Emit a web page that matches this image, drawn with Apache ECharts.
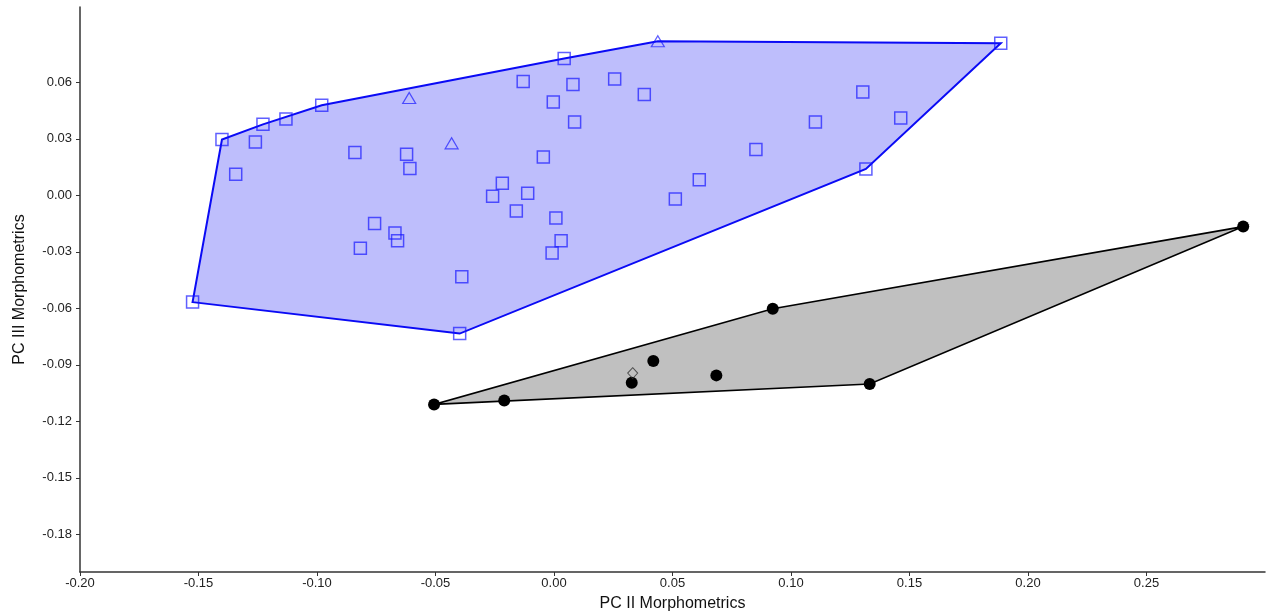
<!DOCTYPE html>
<html>
<head>
<meta charset="utf-8">
<script src="https://cdn.jsdelivr.net/npm/echarts@6/dist/echarts.min.js"></script>
<style>
html,body{margin:0;padding:0;background:#fff;}
#chart{width:1266px;height:614px;}
</style>
</head>
<body>
<div id="chart"></div>
<script>
// PC II (x), PC III (y) scores
const blueSquares = [
  [-0.1525,-0.0567],[-0.1401,0.0296],[-0.1343,0.0112],[-0.1260,0.0283],[-0.1228,0.0377],
  [-0.1131,0.0405],[-0.0980,0.0478],[-0.0840,0.0228],[-0.0757,-0.0150],[-0.0817,-0.0281],
  [-0.0671,-0.0200],[-0.0660,-0.0241],[-0.0622,0.0218],[-0.0608,0.0143],[-0.0389,-0.0432],
  [-0.0398,-0.0734],[-0.0218,0.0064],[-0.0259,-0.0005],[-0.0111,0.0011],[-0.0159,-0.0083],
  [-0.0045,0.0203],[0.0008,-0.0121],[0.0030,-0.0241],[-0.0008,-0.0306],[-0.0130,0.0604],
  [0.0080,0.0588],[-0.0003,0.0495],[0.0087,0.0389],[0.0043,0.0726],[0.0256,0.0618],
  [0.0381,0.0536],[0.1303,0.0549],[0.1463,0.0411],[0.1103,0.0389],[0.0852,0.0243],
  [0.0613,0.0083],[0.0512,-0.0020],[0.1316,0.0140],[0.1885,0.0807]
];
const blueTriangles = [[-0.0611,0.0517],[-0.0432,0.0276],[0.0438,0.0818]];
const blackCircles = [
  [-0.0506,-0.1110],[-0.0210,-0.1089],[0.0328,-0.0995],[0.0419,-0.0880],
  [0.0685,-0.0956],[0.0923,-0.0602],[0.1332,-0.1002],[0.2908,-0.0166]
];
const blackDiamonds = [[0.0332,-0.0944]];

const xTicks = [-0.20,-0.15,-0.10,-0.05,0.00,0.05,0.10,0.15,0.20,0.25];
const yTicks = [-0.18,-0.15,-0.12,-0.09,-0.06,-0.03,0.00,0.03,0.06];

function hull(points){
  const p = points.slice().sort((a,b)=>a[0]-b[0]||a[1]-b[1]);
  const cross=(o,a,b)=>(a[0]-o[0])*(b[1]-o[1])-(a[1]-o[1])*(b[0]-o[0]);
  const lower=[],upper=[];
  for(const q of p){while(lower.length>=2&&cross(lower[lower.length-2],lower[lower.length-1],q)<=0)lower.pop();lower.push(q);}
  for(let i=p.length-1;i>=0;i--){const q=p[i];while(upper.length>=2&&cross(upper[upper.length-2],upper[upper.length-1],q)<=0)upper.pop();upper.push(q);}
  upper.pop();lower.pop();
  return lower.concat(upper);
}

const blueHull = hull(blueSquares.concat(blueTriangles));
const blackHull = hull(blackCircles.concat(blackDiamonds));

function polySeries(pts, fill, stroke, lw){
  return {
    type:'custom', z:1, silent:true,
    data:[pts[0]],
    renderItem:function(params, api){
      return {type:'polygon', shape:{points: pts.map(p=>api.coord(p))},
        style:{fill:fill, stroke:stroke, lineWidth:lw, lineJoin:'miter'}};
    }
  };
}

const fmt = v => v.toFixed(2);
const chart = echarts.init(document.getElementById('chart'), null, {renderer:'canvas'});
chart.setOption({
  animation:false,
  backgroundColor:'#ffffff',
  grid:{left:80, right:1, top:7, bottom:42, containLabel:false, outerBoundsMode:'none'},
  xAxis:{
    type:'value', min:-0.20, max:0.30,
    name:'PC II Morphometrics', nameLocation:'middle', nameGap:24,
    nameTextStyle:{fontFamily:'Liberation Sans, Arial, sans-serif', fontSize:16, color:'#111'},
    axisLine:{show:true, onZero:false, lineStyle:{color:'#333', width:1.5}},
    axisTick:{show:true, length:4, customValues:xTicks, lineStyle:{color:'#333'}},
    axisLabel:{customValues:xTicks, formatter:fmt, margin:5, fontFamily:'Liberation Sans, Arial, sans-serif', fontSize:13, color:'#222'},
    splitLine:{show:false}
  },
  yAxis:{
    type:'value', min:-0.20, max:0.10,
    name:'PC III Morphometrics', nameLocation:'middle', nameGap:52,
    nameTextStyle:{fontFamily:'Liberation Sans, Arial, sans-serif', fontSize:16, color:'#111'},
    axisLine:{show:true, onZero:false, lineStyle:{color:'#333', width:1.5}},
    axisTick:{show:true, length:4, customValues:yTicks, lineStyle:{color:'#333'}},
    axisLabel:{customValues:yTicks, formatter:fmt, margin:8, fontFamily:'Liberation Sans, Arial, sans-serif', fontSize:13, color:'#222'},
    splitLine:{show:false}
  },
  series:[
    polySeries(blueHull, 'rgba(130,130,250,0.52)', '#0a0af5', 2),
    polySeries(blackHull, '#c0c0c0', '#000000', 1.6),
    {type:'scatter', z:3, data:blueSquares, symbol:'rect', symbolSize:12,
     itemStyle:{color:'rgba(0,0,0,0)', borderColor:'rgba(20,20,255,0.85)', borderWidth:1.5}},
    {type:'scatter', z:3, data:blueTriangles, symbol:'triangle', symbolSize:[13,11],
     itemStyle:{color:'rgba(0,0,0,0)', borderColor:'rgba(20,20,255,0.85)', borderWidth:1.2}},
    {type:'scatter', z:3, data:blackCircles, symbol:'circle', symbolSize:12,
     itemStyle:{color:'#000', opacity:1}},
    {type:'scatter', z:3, data:blackDiamonds, symbol:'diamond', symbolSize:[10,11],
     itemStyle:{color:'rgba(0,0,0,0)', borderColor:'#333', borderWidth:1}}
  ]
});
</script>
</body>
</html>
